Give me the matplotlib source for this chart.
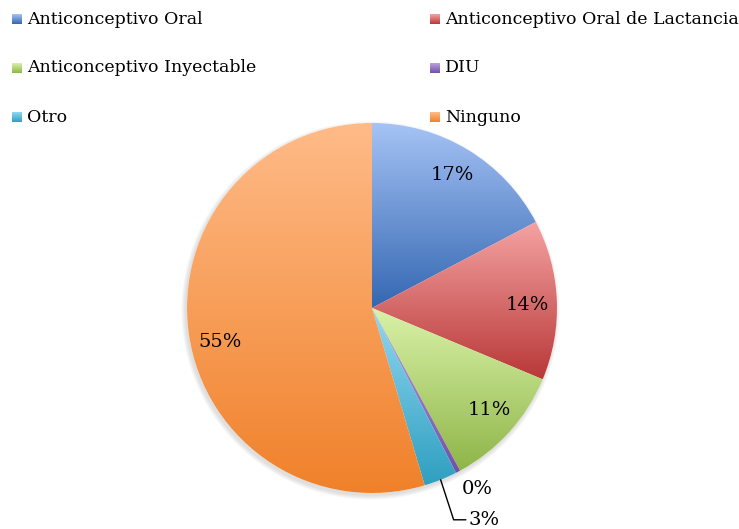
import matplotlib
matplotlib.use('Agg')
import matplotlib.pyplot as plt
import matplotlib.patches as mpatches
import numpy as np

labels = ['Anticonceptivo Oral', 'Anticonceptivo Oral de Lactancia',
          'Anticonceptivo Inyectable', 'DIU', 'Otro', 'Ninguno']
values = [17.3, 14.0, 10.8, 0.4, 2.9, 54.6]
pct_text = ['17%', '14%', '11%', '0%', '3%', '55%']
# top / bottom colour of each slice gradient
top_colors = ['#a5c3f5', '#f5a3a3', '#d9f2a8', '#bba3db', '#92d8f2', '#ffbb88']
bot_colors = ['#3467b2', '#b93838', '#8fb548', '#7350a8', '#2f9fc0', '#f0812a']

plt.rcParams['font.family'] = ['DejaVu Serif']

W, H = 739, 529
fig = plt.figure(figsize=(W / 100, H / 100), dpi=100)
ax = fig.add_axes([0, 0, 1, 1])

cx, cy, R = 372, H - 308, 185

# soft shadow
for k in range(5):
    ax.add_patch(mpatches.Circle((cx - 1.5, cy - 2.5), R + 0.5 + k * 0.9,
                                 color='#808080', alpha=0.05, lw=0, zorder=0))

wedges, _ = ax.pie(values, startangle=90, counterclock=False,
                   center=(cx, cy), radius=R, frame=True,
                   wedgeprops=dict(linewidth=0, facecolor='white'))

def grad(c1, c2, n=256):
    a = np.array(matplotlib.colors.to_rgb(c1))
    b = np.array(matplotlib.colors.to_rgb(c2))
    t = np.linspace(0, 1, n)[:, None]
    return (a + (b - a) * t)[:, None, :]

for w, c1, c2 in zip(wedges, top_colors, bot_colors):
    ext = w.get_path().get_extents()
    im = ax.imshow(grad(c1, c2), extent=(ext.x0, ext.x1, ext.y0, ext.y1),
                   origin='upper', aspect='auto', zorder=2, interpolation='bilinear')
    im.set_clip_path(w)

# percentage labels (Excel "best fit" nudges for the big slices)
shift = [0, -1.5, 1, 0, 0, 4.5]
for i, w in enumerate(wedges):
    mid = np.deg2rad((w.theta1 + w.theta2) / 2 + shift[i])
    if values[i] >= 5:
        d = 0.84 * R
        ax.text(cx + d * np.cos(mid), cy + d * np.sin(mid), pct_text[i],
                ha='center', va='center', fontsize=14, zorder=5)

# small slices outside
w = wedges[3]
mid = np.deg2rad((w.theta1 + w.theta2) / 2 + 2.5)
ax.text(cx + 210 * np.cos(mid), cy + 210 * np.sin(mid), pct_text[3],
        ha='center', va='center', fontsize=14, zorder=5)
w = wedges[4]
mid = np.deg2rad((w.theta1 + w.theta2) / 2)
ex, ey = cx + R * np.cos(mid), cy + R * np.sin(mid)
ax.annotate(pct_text[4], xy=(ex, ey), xytext=(ex + 28, ey - 40),
            ha='left', va='center', fontsize=14, zorder=5,
            arrowprops=dict(arrowstyle='-', color='black', lw=1,
                            shrinkA=0, shrinkB=0, relpos=(0, 0.5),
                            connectionstyle='angle,angleA=180,angleB=-72,rad=0'))

# legend
for i, lab in enumerate(labels):
    col, row = i % 2, i // 2
    x0 = 12 if col == 0 else 430
    yc = H - (19 + row * 49)
    im = ax.imshow(grad(top_colors[i], bot_colors[i]),
                   extent=(x0, x0 + 10, yc - 5, yc + 5),
                   origin='upper', aspect='auto', zorder=3)
    ax.text(x0 + 15, yc, lab, ha='left', va='center', fontsize=12.5)

ax.set_xlim(0, W)
ax.set_ylim(0, H)
ax.set_aspect('auto')
ax.axis('off')

fig.savefig('out.png', dpi=100)
